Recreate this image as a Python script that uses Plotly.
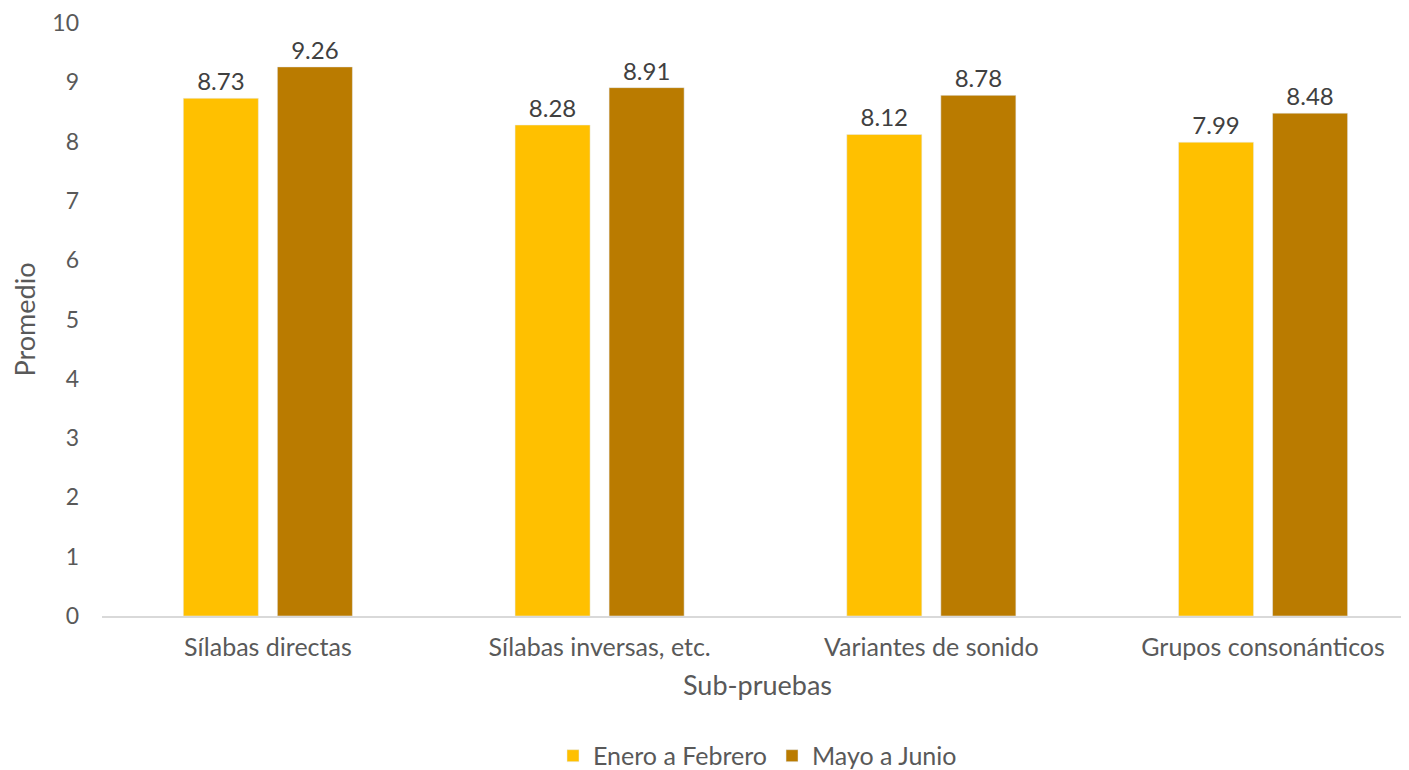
import plotly.graph_objects as go

categories = ["Sílabas directas", "Sílabas inversas, etc.", "Variantes de sonido", "Grupos consonánticos"]
enero_febrero = [8.73, 8.28, 8.12, 7.99]
mayo_junio = [9.26, 8.91, 8.78, 8.48]
series_names = ["Enero a Febrero", "Mayo a Junio"]
y_ticks = list(range(0, 11))

FONT = "Lato, 'Noto Sans', sans-serif"
fig = go.Figure()
for name, vals, col in [(series_names[0], enero_febrero, "#FFC000"),
                        (series_names[1], mayo_junio, "#BA7B00")]:
    fig.add_trace(go.Bar(
        x=categories, y=vals, name=name, marker_color=col,
        text=[f"{v:.2f}" for v in vals], textposition="outside",
        textfont=dict(size=24, color="#404040", family=FONT),
        cliponaxis=False,
    ))

fig.update_layout(
    width=1409, height=770,
    margin=dict(l=94, r=4, t=15, b=162, autoexpand=False),
    plot_bgcolor="white", paper_bgcolor="white",
    barmode="group", bargap=0.433, bargroupgap=0.202,
    font=dict(family=FONT, color="#595959", size=24),
    showlegend=True,
    legend=dict(orientation="h", x=0.5, xanchor="center", y=-0.236, yanchor="middle",
                font=dict(size=25, color="#595959"), traceorder="normal",
                itemwidth=30),
    xaxis=dict(
        range=[-0.5, 3.452], showgrid=False, showline=True, linecolor="#D9D9D9",
        linewidth=1.5, ticks="", tickfont=dict(size=25, color="#595959"),
        ticklabelstandoff=8, automargin=False,
        title=dict(text="Sub-pruebas", font=dict(size=27, color="#595959"), standoff=16),
    ),
    yaxis=dict(
        range=[0, 10], tickvals=y_ticks, showgrid=False, showline=False, zeroline=False,
        ticks="", ticklabelstandoff=22, automargin=False, ticklabeloverflow="allow",
        tickfont=dict(size=23, color="#595959"),
        title=dict(text="Promedio", font=dict(size=27, color="#595959"), standoff=13),
    ),
)
fig.write_html("out.html")
